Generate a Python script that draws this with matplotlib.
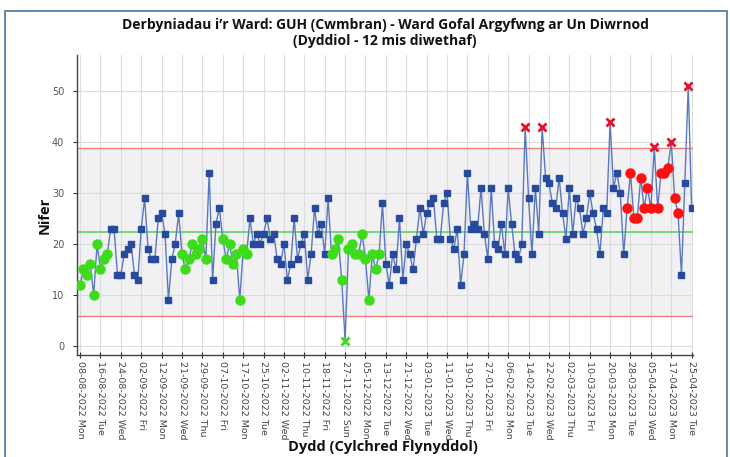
import matplotlib
matplotlib.use("Agg")
import matplotlib.pyplot as plt
from matplotlib.patches import Rectangle
import numpy as np

title = "Derbyniadau i\u2019r Ward: GUH (Cwmbran) - Ward Gofal Argyfwng ar Un Diwrnod\n(Dyddiol - 12 mis diwethaf)"
y_label = "Nifer"
x_label = "Dydd (Cylchred Flynyddol)"

values = [
    12, 15, 14, 16, 10, 20, 15, 17, 18, 23,
    23, 14, 14, 18, 19, 20, 14, 13, 23, 29,
    19, 17, 17, 25, 26, 22, 9, 17, 20, 26,
    18, 15, 17, 20, 18, 19, 21, 17, 34, 13,
    24, 27, 21, 17, 20, 16, 18, 9, 19, 18,
    25, 20, 22, 20, 22, 25, 21, 22, 17, 16,
    20, 13, 16, 25, 17, 20, 22, 13, 18, 27,
    22, 24, 18, 29, 18, 19, 21, 13, 1, 19,
    20, 18, 18, 22, 17, 9, 18, 15, 18, 28,
    16, 12, 18, 15, 25, 13, 20, 18, 15, 21,
    27, 22, 26, 28, 29, 21, 21, 28, 30, 21,
    19, 23, 12, 18, 34, 23, 24, 23, 31, 22,
    17, 31, 20, 19, 24, 18, 31, 24, 18, 17,
    20, 43, 29, 18, 31, 22, 43, 33, 32, 28,
    27, 33, 26, 21, 31, 22, 29, 27, 22, 25,
    30, 26, 23, 18, 27, 26, 44, 31, 34, 30,
    18, 27, 34, 25, 25, 33, 27, 31, 27, 39,
    27, 34, 34, 35, 40, 29, 26, 14, 32, 51,
    27,
]

tick_labels = [
    "08-08-2022 Mon", "16-08-2022 Tue", "24-08-2022 Wed", "02-09-2022 Fri",
    "12-09-2022 Mon", "21-09-2022 Wed", "29-09-2022 Thu", "07-10-2022 Fri",
    "17-10-2022 Mon", "25-10-2022 Tue", "02-11-2022 Wed", "10-11-2022 Thu",
    "18-11-2022 Fri", "27-11-2022 Sun", "05-12-2022 Mon", "13-12-2022 Tue",
    "21-12-2022 Wed", "03-01-2023 Tue", "11-01-2023 Wed", "19-01-2023 Thu",
    "27-01-2023 Fri", "06-02-2023 Mon", "14-02-2023 Tue", "22-02-2023 Wed",
    "02-03-2023 Thu", "10-03-2023 Fri", "20-03-2023 Mon", "28-03-2023 Tue",
    "05-04-2023 Wed", "17-04-2023 Mon", "25-04-2023 Tue",
]
tick_step = 6

centre = 22.4
ucl = 38.8
lcl = 5.9
run_length = 8

vals = np.array(values, dtype=float)
n = len(vals)
x = np.arange(n)

# classify points (SPC rules)
above = vals > centre
run_hi = np.zeros(n, bool)
run_lo = np.zeros(n, bool)
i = 0
while i < n:
    j = i
    while j + 1 < n and above[j + 1] == above[i]:
        j += 1
    if j - i + 1 >= run_length:
        if above[i]:
            run_hi[i:j + 1] = True
        else:
            run_lo[i:j + 1] = True
    i = j + 1
out_hi = vals > ucl
out_lo = vals < lcl

fig = plt.figure(figsize=(7.3, 4.57), dpi=100)
W, H = 730, 457
ax = fig.add_axes([76.7 / W, 1 - 355 / H, (693 - 76.7) / W, (355 - 55) / H])

ax.set_xlim(-1, 180.4)
ax.set_ylim(-1.8, 57.1)

ax.axhspan(lcl, ucl, color="#f1f1f4", zorder=0, lw=0)
ax.set_yticks(np.arange(0, 51, 10))
ax.set_xticks(np.arange(0, n, tick_step))
ax.set_xticklabels(tick_labels, rotation=-90, fontsize=6.8, color="#333333",
                   family="DejaVu Sans")
ax.tick_params(axis="x", direction="inout", length=5, width=0.8, pad=2, colors="#333333")
ax.tick_params(axis="y", direction="out", length=3, width=0.8, pad=6, labelsize=7, colors="#333333")
for lab in ax.get_xticklabels():
    lab.set_color("#444444")
for lab in ax.get_yticklabels():
    lab.set_color("#555555")
ax.grid(True, color="#dcdcdc", lw=0.8, zorder=0.5)
ax.set_axisbelow(True)
for s in ["top", "right"]:
    ax.spines[s].set_visible(False)
for s in ["left", "bottom"]:
    ax.spines[s].set_color("#444444")
    ax.spines[s].set_linewidth(1.0)

ax.axhline(ucl, color="#f07f7f", lw=1.0, zorder=1)
ax.axhline(lcl, color="#f07f7f", lw=1.0, zorder=1)
ax.axhline(centre, color="#5fd35f", lw=1.2, zorder=1)

ax.plot(x, vals, color="#5a78c0", lw=1.0, zorder=2)

normal = ~(run_hi | run_lo | out_hi | out_lo)
ax.plot(x[normal], vals[normal], ls="none", marker="s", ms=4.6, mfc="#274a9c",
        mec="#274a9c", zorder=3)
m = run_lo & ~out_lo
ax.plot(x[m], vals[m], ls="none", marker="o", ms=6.5, mfc="#3ddc1a", mec="#3ddc1a", zorder=3)
m = run_hi & ~out_hi
ax.plot(x[m], vals[m], ls="none", marker="o", ms=6.5, mfc="#ff1010", mec="#ff1010", zorder=3)
ax.plot(x[out_hi], vals[out_hi], ls="none", marker="x", ms=5.5, mew=2.0, color="#e8102a", zorder=4)
ax.plot(x[out_lo], vals[out_lo], ls="none", marker="x", ms=5.5, mew=2.0, color="#3ddc1a", zorder=4)

fig.text(385 / W, 1 - 33 / H, title, ha="center", va="center", fontsize=10,
         fontweight="bold", family="Open Sans", linespacing=1.1, color="#111111")
fig.text(45 / W, 1 - 215 / H, y_label, ha="center", va="center", rotation=90,
         fontsize=10.5, fontweight="bold", family="Open Sans", color="#111111")
fig.text(383 / W, 1 - 447 / H, x_label, ha="center", va="center",
         fontsize=10.5, fontweight="bold", family="Open Sans", color="#111111")

fig.patches.append(Rectangle((5 / W, -0.05), (727 - 5) / W, 1 - 11 / H + 0.05,
                             transform=fig.transFigure, fill=False,
                             edgecolor="#5b7fa8", lw=1.3))

fig.savefig("out.png", dpi=100)
